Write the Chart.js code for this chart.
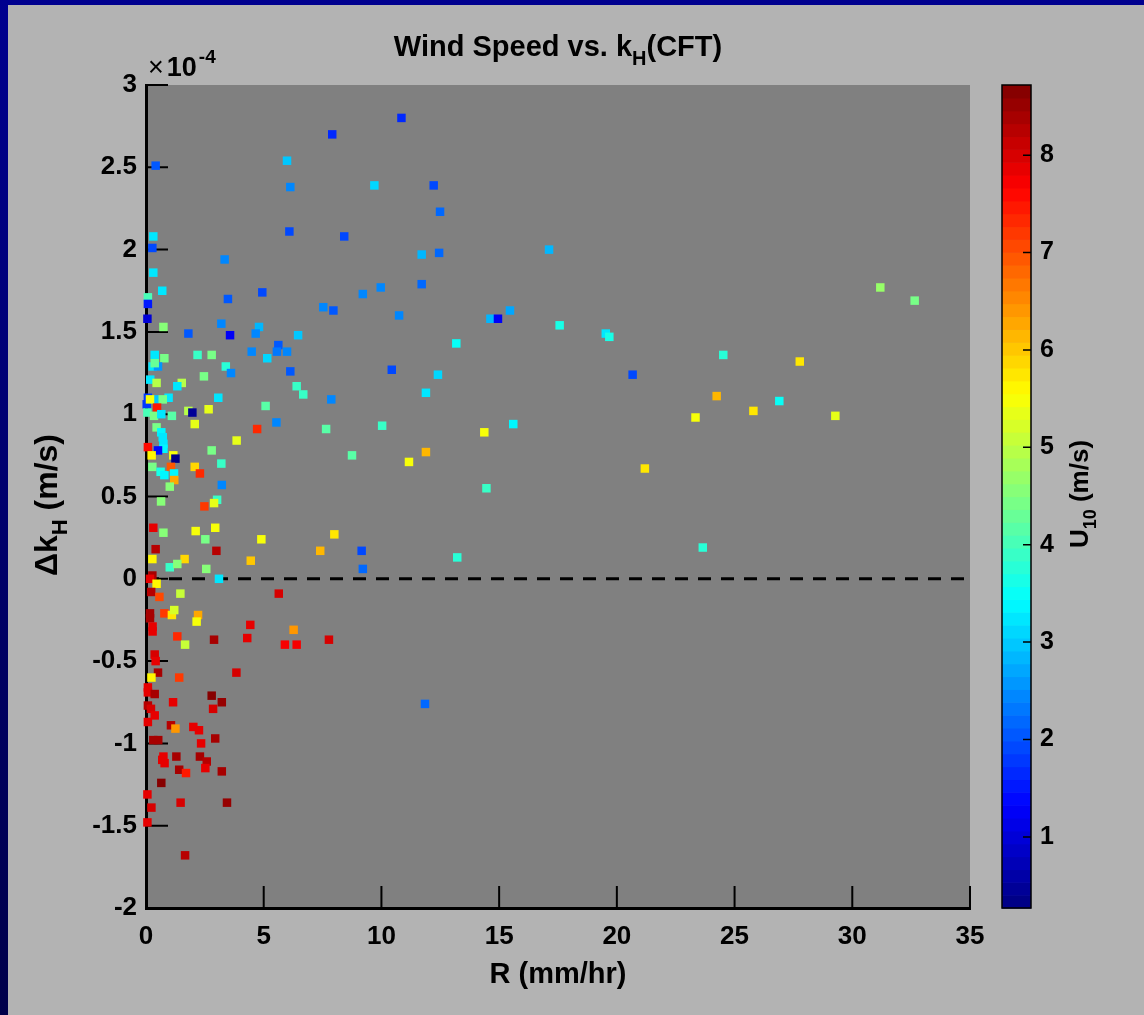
<!DOCTYPE html>
<html>
<head>
<meta charset="utf-8">
<title>Wind Speed vs. kH (CFT)</title>
<script src="https://cdn.jsdelivr.net/npm/chart.js@4.4.1/dist/chart.umd.min.js"></script>
<style>
  html, body { margin: 0; padding: 0; }
  body {
    width: 1144px;
    height: 1015px;
    position: relative;
    overflow: hidden;
    background: linear-gradient(to bottom, #00008f, #00004a);
  }
  #panel { position: absolute; left: 8px; top: 5px; right: 0; bottom: 0; background: #b3b3b3; }
  #chart { position: absolute; left: 0; top: 0; display: block; }
</style>
</head>
<body>
<div id="panel"></div>
<canvas id="chart" width="1144" height="1015"></canvas>
<script>
// R, rain rate (mm/hr)
const rainRate = [
  7.91, 0.41, 5.99, 6.13, 6.09, 0.31, 0.27, 3.34, 0.31, 0.69, 4.94, 0.08, 0.08, 3.48, 7.53, 7.96, 0.06,
  0.74, 3.20, 1.80, 3.57, 4.80, 4.66, 6.46, 0.37, 0.78, 2.19, 2.79, 4.49, 5.62, 5.56, 5.99,
  0.28, 0.51, 0.37, 3.39, 3.61, 5.15, 6.13, 2.46, 0.18, 0.45, 1.52, 1.33, 6.40, 6.68, 7.87,
  3.07, 0.96, 0.37, 0.71, 0.08, 0.03, 0.17, 0.47, 5.08, 0.06, 0.34, 0.65, 1.10, 1.80, 1.97,
  2.66, 5.54, 7.65, 4.72, 2.07, 0.45, 3.85, 0.65, 0.71, 0.74, 0.74, 0.08, 0.51, 0.24, 1.16,
  1.25, 2.79, 3.20, 0.27, 0.62, 0.78, 1.06, 1.19, 1.20, 2.07, 2.29, 1.01, 3.22, 3.02, 2.89,
  0.64, 2.48, 0.31, 0.74, 2.11, 2.94, 2.52, 4.90, 8.00, 0.41, 2.99, 7.40, 0.27, 1.64, 1.01,
  1.33, 2.56, 4.45, 3.10, 0.27, 0.17, 0.45, 0.22, 0.57, 1.46, 5.64, 0.17, 0.17, 0.78, 1.10,
  1.20, 2.21, 2.15, 4.43, 6.27, 0.28, 0.28, 1.33, 1.66, 2.89, 4.30, 5.90, 6.40, 7.77, 0.37,
  0.41, 0.51, 3.84, 0.23, 1.41, 0.08, 0.08, 0.37, 2.79, 3.22, 1.15, 2.85, 0.08, 0.21, 0.37,
  0.08, 1.06, 1.25, 2.01, 2.25, 2.94, 0.31, 0.52, 2.34, 0.74, 0.69, 0.79, 1.29, 2.29, 2.58,
  2.52, 1.41, 1.70, 3.22, 0.65, 0.06, 0.23, 1.47, 3.44, 0.06, 1.66,
  10.85, 9.70, 12.22, 12.49, 8.42, 11.71, 12.45, 17.12, 11.71, 9.97, 9.21, 10.75, 14.63, 14.95,
  15.46, 17.57, 19.53, 19.68, 13.18, 10.44, 20.67, 12.40, 11.89, 10.03, 15.60, 14.37, 8.75,
  11.89, 11.17, 21.19, 14.46, 9.16, 13.22, 9.21, 31.19, 32.65, 24.52, 27.77, 24.24, 26.90,
  23.34, 25.80, 29.28, 23.65, 11.85
];

// delta k_H, in units of 1e-4 m/s
const deltaKH = [
  2.70, 2.51, 2.54, 2.38, 2.11, 2.08, 2.01, 1.94, 1.86, 1.75, 1.74, 1.71, 1.67, 1.70, 1.65, 1.63, 1.58,
  1.53, 1.55, 1.49, 1.48, 1.53, 1.49, 1.48, 1.36, 1.34, 1.36, 1.36, 1.38, 1.42, 1.38, 1.38,
  1.29, 1.29, 1.31, 1.29, 1.25, 1.34, 1.26, 1.23, 1.21, 1.19, 1.19, 1.17, 1.17, 1.12, 1.09,
  1.10, 1.10, 1.09, 1.09, 1.10, 1.06, 1.09, 1.04, 1.05, 1.01, 0.99, 1.00, 0.99, 1.02, 1.01,
  1.03, 0.95, 0.91, 0.91, 0.94, 0.92, 0.84, 0.89, 0.86, 0.82, 0.79, 0.80, 0.78, 0.75, 0.75,
  0.73, 0.78, 0.70, 0.68, 0.65, 0.63, 0.68, 0.64, 0.60, 0.68, 0.64, 0.56, 0.57, 0.48, 0.46,
  0.47, 0.44, 0.31, 0.28, 0.29, 0.31, 0.24, 0.24, 0.27, 0.18, 0.17, 0.17, 0.12, 0.12, 0.07,
  0.09, 0.06, 0.11, 0.00, 0.02, 0.00, -0.03, -0.08, -0.11, -0.09, -0.09, -0.21, -0.24, -0.21, -0.22,
  -0.19, -0.22, -0.26, -0.28, -0.31, -0.29, -0.32, -0.35, -0.40, -0.37, -0.36, -0.40, -0.40, -0.37, -0.46,
  -0.50, -0.57, -0.57, -0.60, -0.60, -0.66, -0.69, -0.70, -0.71, -0.75, -0.75, -0.79, -0.77, -0.79, -0.83,
  -0.87, -0.89, -0.91, -0.90, -0.92, -0.97, -0.98, -0.98, -1.00, -1.08, -1.10, -1.12, -1.08, -1.08, -1.11,
  -1.15, -1.16, -1.18, -1.17, -1.24, -1.31, -1.39, -1.36, -1.36, -1.48, -1.68,
  2.80, 2.39, 2.39, 2.23, 2.08, 1.97, 1.98, 2.00, 1.79, 1.77, 1.73, 1.60, 1.58, 1.58,
  1.63, 1.54, 1.49, 1.47, 1.43, 1.27, 1.24, 1.24, 1.13, 0.93, 0.94, 0.89, 0.75,
  0.77, 0.71, 0.67, 0.55, 0.17, 0.13, 0.06, 1.77, 1.69, 1.36, 1.32, 1.11, 1.08,
  0.98, 1.02, 0.99, 0.19, -0.76
];

// U10, wind speed at 10 m (m/s)
const windU10 = [
  1.6, 2.0, 3.0, 2.5, 1.9, 3.2, 1.9, 2.4, 3.2, 3.3, 1.9, 4.0, 1.5, 2.0, 2.5, 2.0, 1.0,
  4.6, 2.5, 2.1, 1.3, 2.8, 2.5, 3.0, 3.3, 4.4, 3.9, 4.4, 2.5, 2.0, 2.3, 2.5,
  3.3, 2.6, 4.3, 3.8, 2.4, 3.1, 2.0, 4.4, 3.3, 5.0, 4.9, 3.3, 3.9, 3.9, 2.5,
  3.2, 3.3, 3.0, 4.4, 1.8, 1.8, 5.5, 7.4, 4.2, 4.0, 4.4, 3.3, 4.2, 5.0, 0.5,
  5.3, 2.4, 4.2, 7.3, 5.3, 4.4, 5.3, 3.4, 3.3, 3.3, 3.4, 7.6, 1.4, 5.6, 5.5,
  0.3, 4.4, 3.9, 4.4, 3.6, 3.4, 6.9, 3.4, 6.3, 5.9, 7.3, 4.5, 2.5, 3.9, 5.3,
  4.5, 7.2, 7.8, 4.5, 5.5, 5.5, 4.4, 5.5, 5.8, 8.3, 8.3, 6.1, 5.6, 5.9, 3.9,
  4.5, 4.5, 6.0, 3.3, 8.4, 7.8, 5.6, 8.3, 7.1, 5.1, 8.0, 8.4, 8.4, 7.2, 5.7,
  5.2, 6.3, 5.5, 7.8, 6.4, 7.9, 7.9, 7.3, 5.1, 8.4, 7.8, 7.7, 7.7, 8.0, 8.0,
  7.9, 8.4, 8.0, 5.6, 7.2, 7.9, 7.8, 8.4, 8.6, 8.5, 7.8, 8.0, 8.3, 8.0, 7.9,
  7.9, 8.3, 6.4, 7.8, 7.8, 8.4, 8.4, 8.4, 7.8, 7.9, 7.9, 7.9, 8.4, 8.4, 8.3,
  7.9, 8.4, 7.5, 8.4, 8.7, 7.9, 8.0, 8.0, 8.5, 7.9, 8.3,
  1.6, 3.1, 1.9, 2.2, 1.9, 2.8, 2.2, 2.8, 2.2, 2.5, 2.5, 2.5, 2.8, 1.3,
  2.7, 3.6, 3.3, 3.7, 3.5, 1.9, 1.9, 3.1, 3.3, 3.9, 3.4, 5.5, 4.1,
  6.1, 5.5, 5.8, 3.9, 1.9, 3.8, 2.2, 4.7, 4.4, 3.8, 5.7, 6.2, 3.5,
  5.5, 5.8, 5.3, 3.8, 2.2
];

const xTickValues = [0, 5, 10, 15, 20, 25, 30, 35];
const yTickValues = [-2, -1.5, -1, -0.5, 0, 0.5, 1, 1.5, 2, 2.5, 3];
const cbTickValues = [1, 2, 3, 4, 5, 6, 7, 8];
const zeroLine = [0, 35];

const U_MIN = 0.27;
const U_MAX = 8.72;
const FONT = "'Liberation Sans', Arial, Helvetica, sans-serif";

Chart.defaults.font.family = FONT;
Chart.defaults.font.weight = 'bold';
Chart.defaults.color = '#000';

// matlab style jet(64)
function jet(u) {
  let t = (u - U_MIN) / (U_MAX - U_MIN);
  t = Math.min(Math.max(t, 0), 1);
  t = (Math.min(Math.floor(t * 64), 63) + 0.5) / 64;
  const c = v => Math.round(255 * Math.min(Math.max(v, 0), 1));
  const r = c(Math.min(4 * t - 1.5, -4 * t + 4.5));
  const g = c(Math.min(4 * t - 0.5, -4 * t + 3.5));
  const b = c(Math.min(4 * t + 0.5, -4 * t + 2.5));
  return `rgb(${r},${g},${b})`;
}

function fixTicks(values) {
  return scale => {
    scale.ticks = values.map(v => ({ value: v }));
  };
}

// text with sub/superscripts
function drawRich(ctx, parts, x, y, size, align) {
  const fontFor = p => {
    const s = p.sub || p.sup ? Math.round(size * 0.7) : size;
    return `${p.weight || 'bold'} ${s}px ${FONT}`;
  };
  let total = 0;
  parts.forEach(p => {
    ctx.font = fontFor(p);
    p.w = ctx.measureText(p.t).width + (p.gap || 0);
    total += p.w;
  });
  let cx = align === 'center' ? x - total / 2 : x;
  ctx.textAlign = 'left';
  ctx.textBaseline = 'alphabetic';
  ctx.fillStyle = '#000';
  parts.forEach(p => {
    ctx.font = fontFor(p);
    const dy = p.sub ? size * 0.3 : p.sup ? -size * 0.5 : 0;
    ctx.fillText(p.t, cx, y + dy);
    cx += p.w;
  });
}

const figurePlugin = {
  id: 'figure',
  beforeDraw(chart) {
    const { ctx, chartArea: a } = chart;
    ctx.save();
    ctx.fillStyle = '#808080';
    ctx.fillRect(a.left, a.top, a.right - a.left, a.bottom - a.top);
    ctx.restore();
  },
  beforeDatasetsDraw(chart) {
    // ticks point inwards
    const { ctx, chartArea: a, scales } = chart;
    ctx.save();
    ctx.strokeStyle = '#000';
    ctx.lineWidth = 2;
    ctx.beginPath();
    scales.x.ticks.forEach((t, i) => {
      const px = scales.x.getPixelForTick(i);
      ctx.moveTo(px, a.bottom);
      ctx.lineTo(px, a.bottom - 22);
    });
    scales.y.ticks.forEach((t, i) => {
      const py = scales.y.getPixelForTick(i);
      ctx.moveTo(a.left, py);
      ctx.lineTo(a.left + 22, py);
    });
    ctx.stroke();
    ctx.restore();
  },
  afterDraw(chart) {
    const { ctx, chartArea: a, scales } = chart;
    const cb = scales.cb;
    const barX = cb.left + 32;
    const barW = 29;
    ctx.save();

    // colorbar
    for (let k = 0; k < 64; k++) {
      const u0 = U_MIN + (U_MAX - U_MIN) * k / 64;
      const u1 = U_MIN + (U_MAX - U_MIN) * (k + 1) / 64;
      const y0 = cb.getPixelForValue(u0);
      const y1 = cb.getPixelForValue(u1);
      ctx.fillStyle = jet((u0 + u1) / 2);
      ctx.fillRect(barX, y1, barW, y0 - y1 + 0.6);
    }
    ctx.strokeStyle = '#000';
    ctx.lineWidth = 1.5;
    ctx.strokeRect(barX, cb.top, barW, cb.bottom - cb.top);
    ctx.beginPath();
    cb.ticks.forEach((t, i) => {
      const py = cb.getPixelForTick(i);
      ctx.moveTo(barX + barW, py);
      ctx.lineTo(barX + barW - 8, py);
    });
    ctx.stroke();

    // title
    drawRich(ctx, [{ t: 'Wind Speed vs. k' }, { t: 'H', sub: true }, { t: '(CFT)' }],
      (a.left + a.right) / 2, 56, 29, 'center');

    // exponent
    drawRich(ctx, [{ t: '\u00d7', weight: 'normal', gap: 3 }, { t: '10', gap: 2 }, { t: '-4', sup: true }],
      a.left + 2, 76, 27, 'left');

    // y label
    ctx.save();
    ctx.translate(57, 505);
    ctx.rotate(-Math.PI / 2);
    drawRich(ctx, [{ t: '\u0394k' }, { t: 'H', sub: true }, { t: ' (m/s)' }], 0, 0, 32, 'center');
    ctx.restore();

    // colorbar label
    ctx.save();
    ctx.translate(1088, 494);
    ctx.rotate(-Math.PI / 2);
    drawRich(ctx, [{ t: 'U' }, { t: '10', sub: true }, { t: ' (m/s)' }], 0, 0, 26, 'center');
    ctx.restore();

    ctx.restore();
  }
};

const points = rainRate.map((r, i) => ({ x: r, y: deltaKH[i] }));
const colors = windU10.map(jet);

new Chart(document.getElementById('chart'), {
  type: 'scatter',
  data: {
    datasets: [
      {
        data: points,
        pointStyle: 'rect',
        pointRadius: 6,
        pointBackgroundColor: colors,
        pointBorderWidth: 0,
        clip: false
      },
      {
        type: 'line',
        data: zeroLine.map(x => ({ x: x, y: 0 })),
        borderColor: '#000',
        borderWidth: 3,
        borderDash: [13, 10],
        pointRadius: 0,
        fill: false
      }
    ]
  },
  options: {
    responsive: false,
    animation: false,
    events: [],
    layout: { padding: { left: 0, top: 80, right: 0, bottom: 0 } },
    plugins: {
      legend: { display: false },
      tooltip: { enabled: false }
    },
    scales: {
      x: {
        type: 'linear',
        min: 0,
        max: 35,
        afterBuildTicks: fixTicks(xTickValues),
        afterFit: s => { s.height = 107; },
        grid: { display: false, drawTicks: false },
        border: { color: '#000', width: 3 },
        ticks: {
          font: { size: 26, weight: 'bold' }, color: '#000', padding: 13, maxRotation: 0, autoSkip: false,
          callback: v => String(v)
        },
        title: {
          display: true,
          text: 'R (mm/hr)',
          font: { size: 29, weight: 'bold' },
          color: '#000',
          padding: { top: 0, bottom: 23 }
        }
      },
      y: {
        type: 'linear',
        position: 'left',
        min: -2,
        max: 3,
        afterBuildTicks: fixTicks(yTickValues),
        afterFit: s => { s.width = 146; },
        grid: { display: false, drawTicks: false },
        border: { color: '#000', width: 3 },
        ticks: {
          font: { size: 26, weight: 'bold' }, color: '#000', padding: 9, autoSkip: false,
          callback: v => String(v)
        }
      },
      cb: {
        type: 'linear',
        position: 'right',
        min: U_MIN,
        max: U_MAX,
        afterBuildTicks: fixTicks(cbTickValues),
        afterFit: s => { s.width = 174; },
        grid: { display: false, drawTicks: false },
        border: { display: false },
        ticks: {
          font: { size: 25, weight: 'bold' }, color: '#000', padding: 70, autoSkip: false,
          callback: v => String(v)
        }
      }
    }
  },
  plugins: [figurePlugin]
});
</script>
</body>
</html>
